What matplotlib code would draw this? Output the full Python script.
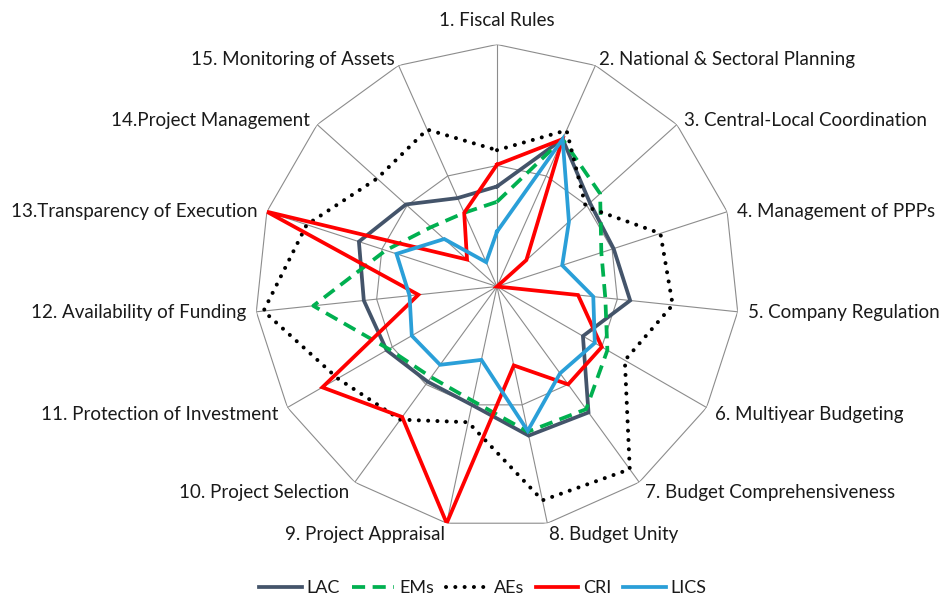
import numpy as np
import matplotlib
matplotlib.use("Agg")
import matplotlib.pyplot as plt
from matplotlib.lines import Line2D

plt.rcParams['font.family'] = ['Lato', 'DejaVu Sans']

categories = [
    "1. Fiscal Rules", "2. National & Sectoral Planning", "3. Central-Local Coordination",
    "4. Management of PPPs", "5. Company Regulation", "6. Multiyear Budgeting",
    "7. Budget Comprehensiveness", "8. Budget Unity", "9. Project Appraisal",
    "10. Project Selection", "11. Protection of Investment", "12. Availability of Funding",
    "13.Transparency of Execution", "14.Project Management", "15. Monitoring of Assets",
]

lac  = [1.24, 2.00, 1.55, 1.52, 1.66, 1.23, 1.93, 1.89, 1.50, 1.46, 1.58, 1.66, 1.80, 1.52, 1.20]
ems  = [1.05, 2.00, 1.72, 1.36, 1.35, 1.58, 1.88, 1.84, 1.45, 1.39, 1.55, 2.29, 1.45, 1.10, 1.00]
aes  = [1.69, 2.12, 1.48, 2.13, 2.19, 1.83, 2.80, 2.71, 1.72, 2.04, 2.28, 2.91, 2.48, 2.00, 2.13]
cri  = [1.51, 2.00, 0.49, 0.00, 1.01, 1.50, 1.50, 1.00, 3.00, 2.00, 2.50, 0.98, 3.00, 0.50, 1.00]
lics = [0.68, 2.00, 1.20, 0.85, 1.20, 1.40, 1.33, 1.83, 0.93, 1.20, 1.22, 1.09, 1.31, 0.88, 0.33]

series_names = ["LAC", "EMs", "AEs", "CRI", "LICS"]
grid_levels = [1.5, 3.0]
r_max = 3.0

n = len(categories)
theta = np.arange(n) * 2 * np.pi / n
theta_c = np.append(theta, theta[0])

fig = plt.figure(figsize=(9.45, 5.99), dpi=100)
W, H = 945, 599
cx, cy, R = 497, 286.5, 242
ax = fig.add_axes([(cx - R) / W, (H - cy - R) / H, 2 * R / W, 2 * R / H], projection='polar')
ax.set_theta_zero_location('N')
ax.set_theta_direction(-1)
ax.set_ylim(0, r_max)
ax.grid(False)
ax.spines['polar'].set_visible(False)
ax.set_xticks([])
ax.set_yticks([])
ax.patch.set_alpha(0)

grid_col = '#8C8C8C'
for lvl in grid_levels:
    ax.plot(theta_c, [lvl] * (n + 1), color=grid_col, lw=0.8, zorder=1)
for t in theta:
    ax.plot([t, t], [0, r_max], color=grid_col, lw=0.8, zorder=1)

def close(v):
    return list(v) + [v[0]]

lw = 2.7
ax.plot(theta_c, close(lac), color='#44546A', lw=lw, zorder=3, solid_joinstyle='miter')
ax.plot(theta_c, close(ems), color='#00B050', lw=lw, ls=(0, (3.5, 2.0)), zorder=4)
ax.plot(theta_c, close(aes), color='black', lw=2.9, ls=(0, (0.01, 2.3)),
        dash_capstyle='round', zorder=5)
ax.plot(theta_c, close(cri), color='#FF0000', lw=lw, zorder=6, solid_joinstyle='miter')
ax.plot(theta_c, close(lics), color='#2A9FD8', lw=lw, zorder=7, solid_joinstyle='miter')

fs = 13.5
txt_col = '#1A1A1A'
px2pt = 72 / 100
for i, (t, lab) in enumerate(zip(theta, categories)):
    s, c = np.sin(t), np.cos(t)
    if abs(s) < 0.1:
        ha = 'center'
    elif s > 0:
        ha = 'left'
    else:
        ha = 'right'
    off = 10
    dx, dy = off * s, off * c
    if i == 0:
        dy = 24
    elif c > 0.2:
        dy -= 3
    elif c < -0.3:
        dy -= 2
    ax.annotate(lab, xy=(t, r_max), xytext=(dx * px2pt, dy * px2pt),
                textcoords='offset points', ha=ha, va='center', fontsize=fs, color=txt_col,
                annotation_clip=False)

handles = [
    Line2D([], [], color='#44546A', lw=lw),
    Line2D([], [], color='#00B050', lw=lw, ls=(0, (3.5, 2.0))),
    Line2D([], [], color='black', lw=2.9, ls=(0, (0.01, 2.3)), dash_capstyle='round'),
    Line2D([], [], color='#FF0000', lw=lw),
    Line2D([], [], color='#2A9FD8', lw=lw),
]
fig.legend(handles, series_names, loc='center', bbox_to_anchor=(483 / W, 11 / H), ncol=5,
           frameon=False, fontsize=13, handlelength=2.35, handletextpad=0.28,
           columnspacing=0.65, labelcolor=txt_col, borderpad=0.0)

fig.savefig('out.png', dpi=100)
